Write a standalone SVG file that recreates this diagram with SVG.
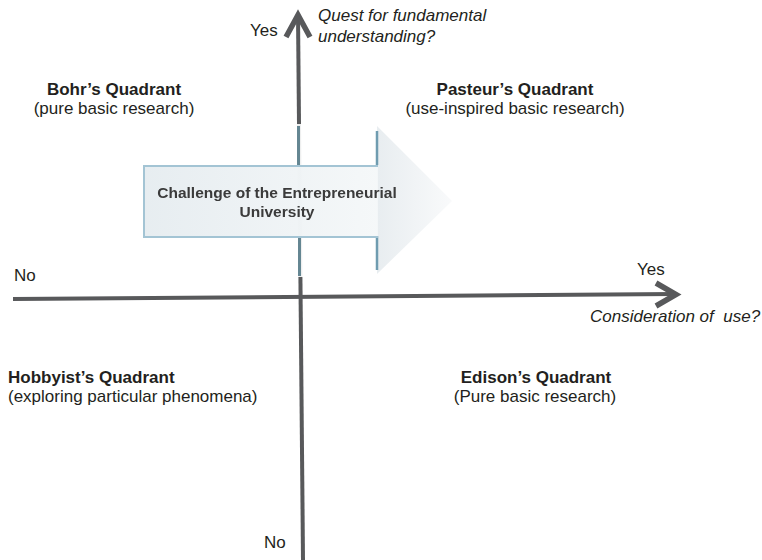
<svg xmlns="http://www.w3.org/2000/svg" width="762" height="560" viewBox="0 0 762 560">
<style>
text{font-family:"Liberation Sans",Arial,sans-serif;font-size:17px;fill:#231f20}
.b{font-weight:bold}
.i{font-style:italic}
.m{text-anchor:middle}
.ax{stroke:#58595b;stroke-width:4;fill:none}
.hd{stroke:#58595b;stroke-width:5.5;fill:none;stroke-linecap:butt;stroke-linejoin:miter}
.tl{stroke:#4d7482;stroke-width:3;opacity:0.85}
.at{font-size:15.5px;font-weight:bold;fill:#3a3a3a;text-anchor:middle}
</style>
<defs>
<linearGradient id="ag" x1="0" y1="0" x2="1" y2="0">
<stop offset="0" stop-color="#e4ebef"/>
<stop offset="1" stop-color="#f4f7f8"/>
</linearGradient>
<linearGradient id="hg" x1="0" y1="0" x2="1" y2="0">
<stop offset="0" stop-color="#e8edf0"/>
<stop offset="1" stop-color="#f9fafb"/>
</linearGradient>
<filter id="bl" x="-5%" y="-20%" width="110%" height="140%"><feGaussianBlur stdDeviation="0.5"/></filter>
</defs>
<rect width="762" height="560" fill="#fff"/>
<g id="connectors">
<line id="vaxis" class="ax" x1="303" y1="560" x2="298" y2="14"/>
<polyline class="hd" points="286,37 298,15 310,37"/>
<line id="haxis" class="ax" x1="13" y1="299" x2="675" y2="294"/>
<polyline class="hd" points="656,283 676,294.5 656,306"/>
</g>
<g id="challenge">
<rect x="140" y="124" width="316" height="153" fill="#fff" opacity="0.9"/>
<line class="tl" x1="298.5" y1="126" x2="298.5" y2="166"/>
<line class="tl" x1="299.5" y1="237" x2="299.5" y2="276"/>
<path d="M377,166 V126 L452,201 L377,274 V237" fill="url(#hg)"/>
<line x1="377" y1="131" x2="377" y2="165" stroke="#6f9cb0" stroke-width="2.5"/>
<line x1="377" y1="236" x2="377" y2="270" stroke="#6f9cb0" stroke-width="2.5"/>
<path d="M144,166 H378 V237 H144 Z" fill="url(#ag)" opacity="0.9"/>
<path d="M378,166 H144 V237 H378" fill="none" stroke="#a3c4d4" stroke-width="2"/>
<g filter="url(#bl)">
<text class="at" x="277" y="198">Challenge of the Entrepreneurial</text>
<text class="at" x="277" y="217">University</text>
</g>
</g>
<g id="yaxis-labels">
<text x="250" y="36">Yes</text>
<text class="i" x="318" y="21">Quest for fundamental</text>
<text class="i" x="318" y="42">understanding?</text>
<text x="264" y="548">No</text>
</g>
<g id="xaxis-labels">
<text x="14" y="281">No</text>
<text x="637" y="275">Yes</text>
<text class="i" x="590" y="322" xml:space="preserve">Consideration of  use?</text>
</g>
<g id="bohr">
<text class="b m" x="114" y="95">Bohr’s Quadrant</text>
<text class="m" x="114" y="114">(pure basic research)</text>
</g>
<g id="pasteur">
<text class="b m" x="515" y="95">Pasteur’s Quadrant</text>
<text class="m" x="515" y="114">(use-inspired basic research)</text>
</g>
<g id="hobbyist">
<text class="b" x="8" y="383">Hobbyist’s Quadrant</text>
<text x="8" y="402">(exploring particular phenomena)</text>
</g>
<g id="edison">
<text class="b m" x="536" y="383">Edison’s Quadrant</text>
<text class="m" x="535" y="402">(Pure basic research)</text>
</g>
</svg>
